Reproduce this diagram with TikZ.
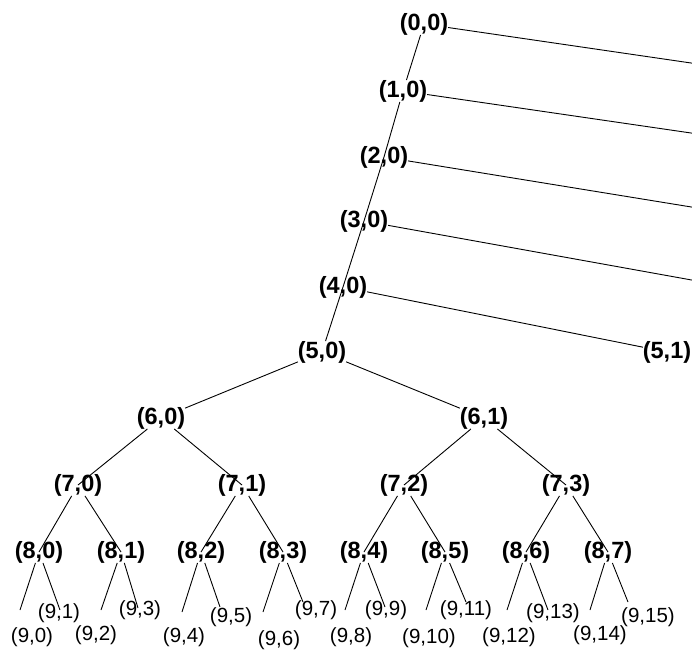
\documentclass[tikz,border=0pt]{standalone}
\usepackage{fontspec}
\setmainfont{Liberation Sans}
\begin{document}
\begin{tikzpicture}[x=1pt,y=-1pt,
  inner/.style={inner sep=0pt,outer sep=0pt,font=\fontsize{23.5}{25}\selectfont\bfseries},
  leaf/.style={inner sep=0pt,outer sep=0pt,font=\fontsize{20.5}{22}\selectfont},
  edge/.style={draw=black,line width=0.9pt}]
\clip (0,0) rectangle (692,649);
\fill[white] (0,0) rectangle (692,649);
% chain
\node[inner] (n00) at (424,24) {(0,0)};
\node[inner] (n10) at (403,91) {(1,0)};
\node[inner] (n20) at (384,157) {(2,0)};
\node[inner] (n30) at (364,221) {(3,0)};
\node[inner] (n40) at (343,287) {(4,0)};
\node[inner] (n50) at (322,352) {(5,0)};
\node[inner] (n51) at (667,352) {(5,1)};
% level 6-8
\node[inner] (n60) at (161,418) {(6,0)};
\node[inner] (n61) at (484,418) {(6,1)};
\node[inner] (n70) at (78,485) {(7,0)};
\node[inner] (n71) at (242,485) {(7,1)};
\node[inner] (n72) at (404,485) {(7,2)};
\node[inner] (n73) at (566,485) {(7,3)};
\node[inner] (n80) at (39,552) {(8,0)};
\node[inner] (n81) at (121,552) {(8,1)};
\node[inner] (n82) at (201,552) {(8,2)};
\node[inner] (n83) at (283,552) {(8,3)};
\node[inner] (n84) at (364,552) {(8,4)};
\node[inner] (n85) at (445,552) {(8,5)};
\node[inner] (n86) at (526,552) {(8,6)};
\node[inner] (n87) at (608,552) {(8,7)};
% off-picture ends
\coordinate (e0) at (700,64.3);
\coordinate (e1) at (700,134.3);
\coordinate (e2) at (700,208.4);
\coordinate (e3) at (700,281.5);
% leaf ends
\coordinate (l0) at (20,610);
\coordinate (l1) at (60,610);
\coordinate (l2) at (101,610);
\coordinate (l3) at (138,608);
\coordinate (l4) at (182,612);
\coordinate (l5) at (220,607);
\coordinate (l6) at (263,612);
\coordinate (l7) at (303,602);
\coordinate (l8) at (345,610);
\coordinate (l9) at (385,607);
\coordinate (l10) at (426,610);
\coordinate (l11) at (466,602);
\coordinate (l12) at (507,610);
\coordinate (l13) at (548,610);
\coordinate (l14) at (590,610);
\coordinate (l15) at (628,602);
% leaf labels
\node[leaf] (t0) at (32,637) {(9,0)};
\node[leaf] (t1) at (59,613) {(9,1)};
\node[leaf] (t2) at (96,635) {(9,2)};
\node[leaf] (t3) at (140,610) {(9,3)};
\node[leaf] (t4) at (184,637) {(9,4)};
\node[leaf] (t5) at (231,617) {(9,5)};
\node[leaf] (t6) at (279,640) {(9,6)};
\node[leaf] (t7) at (316,610) {(9,7)};
\node[leaf] (t8) at (351,637) {(9,8)};
\node[leaf] (t9) at (386,610) {(9,9)};
\node[leaf] (t10) at (429,638) {(9,10)};
\node[leaf] (t11) at (466,610) {(9,11)};
\node[leaf] (t12) at (509,637) {(9,12)};
\node[leaf] (t13) at (553,613) {(9,13)};
\node[leaf] (t14) at (600,635) {(9,14)};
\node[leaf] (t15) at (648,617) {(9,15)};
% edges
\path[edge] (n00) -- (n10);
\path[edge] (n10) -- (n20.center);
\path[edge] (n20.center) -- (n30.center);
\path[edge] (n30.center) -- (n40.center);
\path[edge] (n40.center) -- (n50);
\path[edge] (n00) -- (e0);
\path[edge] (n10) -- (e1);
\path[edge] (n20) -- (e2);
\path[edge] (n30) -- (e3);
\path[edge] (n40) -- (n51);
\path[edge] (n50) -- (n60);
\path[edge] (n50) -- (n61);
\path[edge] (n60) -- (n70.center);
\path[edge] (n60) -- (n71.center);
\path[edge] (n61) -- (n72.center);
\path[edge] (n61) -- (n73.center);
\path[edge] (n70) -- (n80.center);
\path[edge] (n70) -- (n81.center);
\path[edge] (n71) -- (n82.center);
\path[edge] (n71) -- (n83.center);
\path[edge] (n72) -- (n84.center);
\path[edge] (n72) -- (n85.center);
\path[edge] (n73) -- (n86.center);
\path[edge] (n73) -- (n87.center);
\path[edge] (n80) -- (l0);
\path[edge] (n80) -- (l1);
\path[edge] (n81) -- (l2);
\path[edge] (n81) -- (l3);
\path[edge] (n82) -- (l4);
\path[edge] (n82) -- (l5);
\path[edge] (n83) -- (l6);
\path[edge] (n83) -- (l7);
\path[edge] (n84) -- (l8);
\path[edge] (n84) -- (l9);
\path[edge] (n85) -- (l10);
\path[edge] (n85) -- (l11);
\path[edge] (n86) -- (l12);
\path[edge] (n86) -- (l13);
\path[edge] (n87) -- (l14);
\path[edge] (n87) -- (l15);
\end{tikzpicture}
\end{document}
